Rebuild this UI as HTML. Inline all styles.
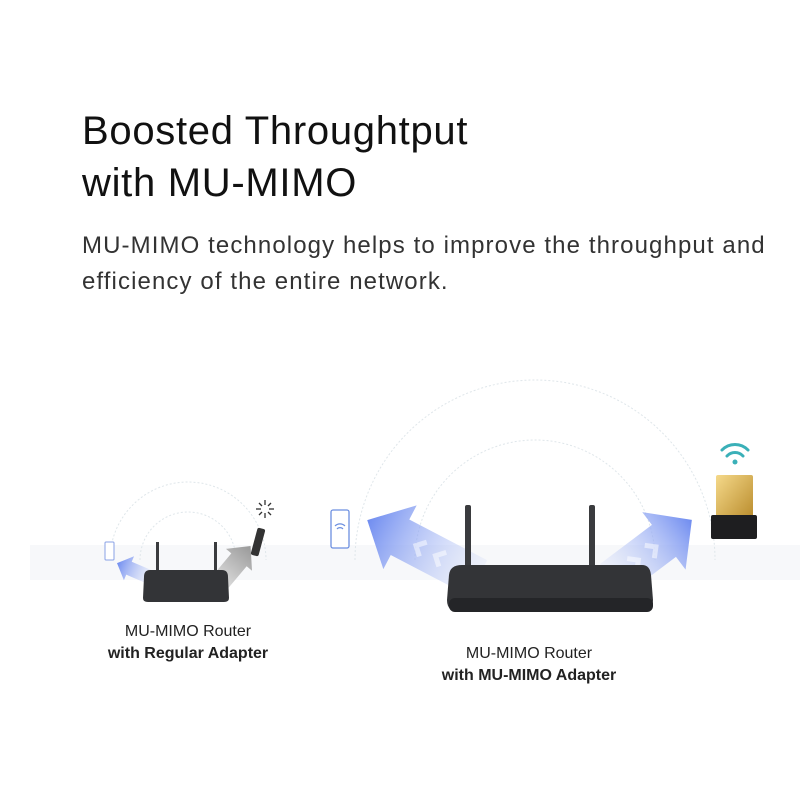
<!DOCTYPE html>
<html><head><style>
body{margin:0;width:800px;height:800px;background:#fff;overflow:hidden;font-family:"Liberation Sans",sans-serif;position:relative}
.t{position:absolute;left:82px;color:#111;font-size:40px;line-height:52px;top:105px;letter-spacing:0.7px}
.p{position:absolute;left:82px;top:228px;font-size:24px;line-height:36px;color:#333;letter-spacing:1.1px}
.l{position:absolute;text-align:center;font-size:16px;line-height:22px;color:#222}
</style></head><body>
<div class="t">Boosted Throughtput<br>with MU-MIMO</div>
<div class="p">MU-MIMO technology helps to improve the throughput and<br>efficiency of the entire network.</div>
<svg width="800" height="800" style="position:absolute;left:0;top:0">
<defs>
<linearGradient id="bl" x1="0" y1="0" x2="1" y2="0"><stop offset="0" stop-color="#c9d4f7" stop-opacity="0.2"/><stop offset="1" stop-color="#6f8cf0"/></linearGradient>
<linearGradient id="gr" x1="0" y1="0" x2="1" y2="0"><stop offset="0" stop-color="#eee"/><stop offset="1" stop-color="#999"/></linearGradient>
<linearGradient id="gold" x1="0" y1="0" x2="1" y2="1"><stop offset="0" stop-color="#f5d98a"/><stop offset="1" stop-color="#b88a2a"/></linearGradient>
</defs>
<rect x="30" y="545" width="770" height="35" fill="#f7f8fa"/>
<g fill="none" stroke="#dfe6ea" stroke-width="1" stroke-dasharray="2 2">
<path d="M355 560 A180 180 0 0 1 715 560"/>
<path d="M415 560 A120 120 0 0 1 655 560"/>
<path d="M110 560 A78 78 0 0 1 266 560"/>
<path d="M140 560 A48 48 0 0 1 236 560"/>
</g>
<g transform="translate(478,578) rotate(-152.4)">
<polygon points="0,-20 88,-20 88,-36 125,0 88,36 88,20 0,20" fill="url(#bl)"/>
<g fill="none" stroke="#fff" stroke-opacity="0.5" stroke-width="5"><path d="M40 -8 L48 0 L40 8"/><path d="M62 -8 L70 0 L62 8"/></g>
</g>
<g transform="translate(612,580) rotate(-37)">
<polygon points="0,-20 65,-20 65,-36 100,0 65,36 65,20 0,20" fill="url(#bl)"/>
<g fill="none" stroke="#fff" stroke-opacity="0.5" stroke-width="5"><path d="M25 -8 L33 0 L25 8"/><path d="M47 -8 L55 0 L47 8"/></g>
</g>
<g transform="translate(152,578) rotate(-157)">
<polygon points="0,-7 25,-7 25,-13 38,0 25,13 25,7 0,7" fill="url(#bl)"/>
</g>
<g transform="translate(212,592) rotate(-50)">
<polygon points="0,-10 42,-10 42,-17 60,0 42,17 42,10 0,10" fill="url(#gr)"/>
</g>
<!-- big router -->
<rect x="465" y="505" width="6" height="68" rx="2" fill="#3a3b3e"/>
<rect x="589" y="505" width="6" height="68" rx="2" fill="#3a3b3e"/>
<path d="M462 565 L642 565 Q650 565 651 575 L653 600 Q653 612 640 612 L460 612 Q447 612 447 600 L449 575 Q450 565 462 565Z" fill="#333437"/>
<rect x="449" y="598" width="204" height="14" rx="6" fill="#242528"/>
<!-- small router -->
<rect x="156" y="542" width="3" height="33" fill="#3a3b3e"/>
<rect x="214" y="542" width="3" height="33" fill="#3a3b3e"/>
<path d="M150 570 L222 570 Q228 570 228 577 L229 598 Q229 602 224 602 L148 602 Q143 602 143 598 L144 577 Q144 570 150 570Z" fill="#333437"/>
<!-- phone icons -->
<rect x="331" y="510" width="18" height="38" rx="2" fill="#fff" stroke="#6c8fe0" stroke-width="1.3"/>
<g fill="none" stroke="#6c8fe0" stroke-width="1.2"><path d="M335 526 A7 7 0 0 1 345 526"/><path d="M337 529 A4 4 0 0 1 343 529"/></g>
<rect x="105" y="542" width="9" height="18" rx="1" fill="#fff" stroke="#8aa2e6" stroke-width="1"/>
<!-- small adapter -->
<rect x="254" y="528" width="8" height="28" rx="2" fill="#333" transform="rotate(15 258 542)"/>
<g stroke="#333" stroke-width="1.3"><line x1="265" y1="500" x2="265" y2="505"/><line x1="265" y1="513" x2="265" y2="518"/><line x1="256" y1="509" x2="261" y2="509"/><line x1="269" y1="509" x2="274" y2="509"/><line x1="259" y1="503" x2="262" y2="506"/><line x1="268" y1="512" x2="271" y2="515"/><line x1="271" y1="503" x2="268" y2="506"/><line x1="259" y1="515" x2="262" y2="512"/></g>
<!-- nano adapter -->
<rect x="716" y="475" width="37" height="46" rx="2" fill="url(#gold)"/>
<rect x="711" y="515" width="46" height="24" rx="2" fill="#1e1e20"/>
<g fill="none" stroke="#3ab0b8" stroke-width="3" stroke-linecap="round">
<path d="M722 450 A18 18 0 0 1 748 450"/><path d="M727 456 A11 11 0 0 1 743 456"/>
</g>
<circle cx="735" cy="462" r="2.5" fill="#3ab0b8"/>
</svg>
<div class="l" style="left:88px;width:200px;top:621px">MU-MIMO Router<br><b>with Regular Adapter</b></div>
<div class="l" style="left:409px;width:240px;top:643px">MU-MIMO Router<br><b>with MU-MIMO Adapter</b></div>
</body></html>
